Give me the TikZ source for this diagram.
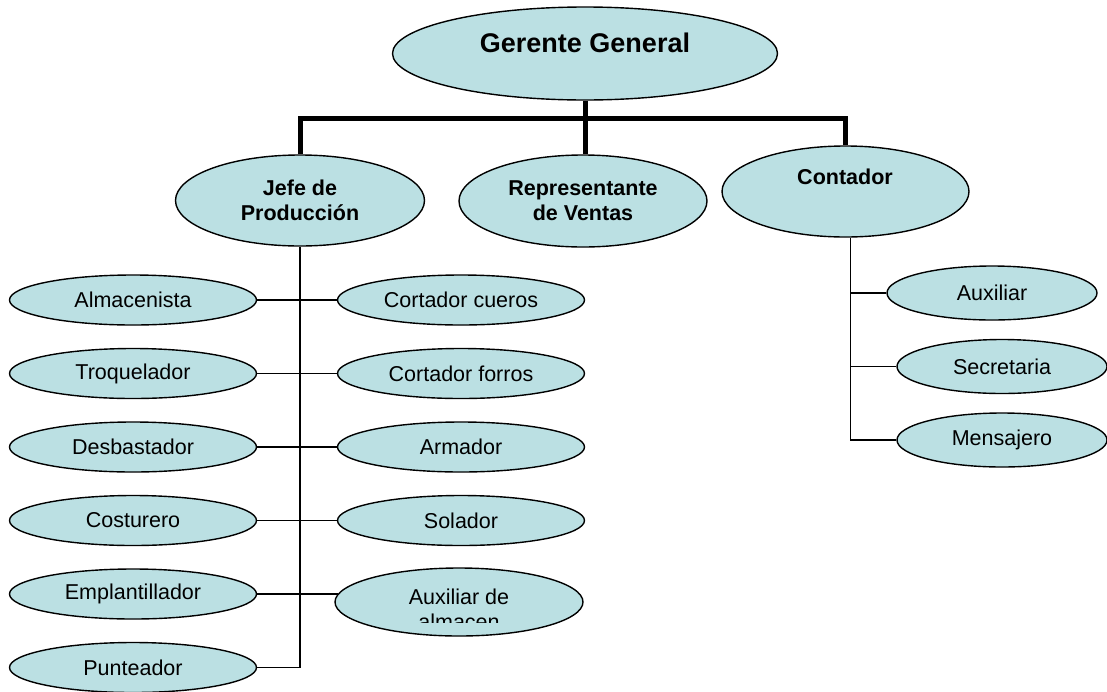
\documentclass[tikz,border=0pt]{standalone}
\usepackage{fontspec}
\setmainfont{Liberation Sans}
\usetikzlibrary{shapes.geometric}
\definecolor{boxfill}{RGB}{187,224,227}
\begin{document}
\begin{tikzpicture}[x=1pt,y=-1pt,
  every node/.style={font=\fontsize{21.5}{25}\selectfont, text=black},
  role/.style={ellipse, draw=black, line width=1.4pt, fill=boxfill, inner sep=0pt, align=center},
  boldtxt/.style={font=\fontsize{21.5}{25}\selectfont\bfseries, align=center},
  low/.style={role, minimum width=247pt, minimum height=50pt},
  sub/.style={role, minimum width=210pt, minimum height=54pt},
  link/.style={line width=1.8pt},
  bar/.style={line width=5pt}]
\useasboundingbox (0,0) rectangle (1107,691);

% top level
\node[role, minimum width=385pt, minimum height=93pt] (gg) at (585,53.5) {};
\node[font=\fontsize{27}{30}\selectfont\bfseries] (ggt) at (585,43) {Gerente General};

% second level
\node[role, boldtxt, minimum width=249pt, minimum height=91pt] (jp) at (300,200.5) {Jefe de\\Producción};
\node[role, boldtxt, minimum width=248pt, minimum height=92pt] (rv) at (583,201) {Representante\\de Ventas};
\node[role, minimum width=247pt, minimum height=91pt] (ct) at (845.5,191.5) {};
\node[boldtxt] (ctt) at (845,177) {Contador};

% production staff
\node[low] (alm) at (133,300) {Almacenista};
\node[low] (tro) at (133,373.5) {Troquelador};
\node[low] (des) at (133,447) {Desbastador};
\node[low] (cos) at (133,520.5) {Costurero};
\node[low] (emp) at (133,594) {Emplantillador};
\node[low] (pun) at (133,667.5) {Punteador};
\node[low] (cc) at (461,300) {Cortador cueros};
\node[low] (cf) at (461,373.5) {Cortador forros};
\node[low] (arm) at (461,447) {Armador};
\node[low] (sol) at (461,520.5) {Solador};
\node[role, minimum width=248pt, minimum height=68pt] (aux2) at (459,602) {};
\begin{scope}
  \clip (330,560) rectangle (590,622);
  \node[align=center] (aux2t) at (459,609.5) {Auxiliar de\\almacen};
\end{scope}

% accounting staff
\node[sub] (aux) at (992,293) {Auxiliar};
\node[sub] (sec) at (1002,366.5) {Secretaria};
\node[sub] (men) at (1002,440) {Mensajero};

% thick connectors
\coordinate (barY) at (0,118);
\draw[bar] (gg.south) -- (gg.south |- rv.north);
\draw[bar] (jp.north) |- (ct.north |- barY) -- (ct.north);

% production connectors
\draw[link] (jp.south) |- (pun.east);
\draw[link] (alm.east) -- (cc.west);
\draw[link] (tro.east) -- (cf.west);
\draw[link] (des.east) -- (arm.west);
\draw[link] (cos.east) -- (sol.west);
\draw[link] (emp.east) -- ([xshift=4pt]emp.east -| aux2.west);

% accounting connectors
\coordinate (cs) at ([xshift=5pt]ct.south);
\draw[link] (cs) |- (men.west);
\draw[link] (cs |- aux.west) -- (aux.west);
\draw[link] (cs |- sec.west) -- (sec.west);
\end{tikzpicture}
\end{document}
